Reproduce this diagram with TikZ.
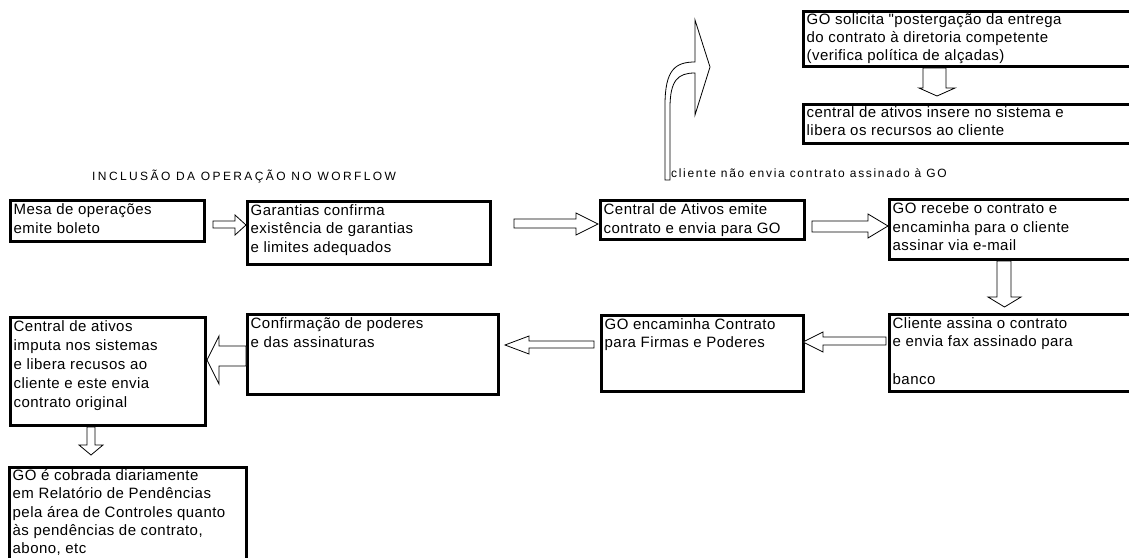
\documentclass[tikz,border=0pt]{standalone}
\usepackage{fontspec}
\setmainfont{Liberation Sans}
\newfontfamily\bodyf[LetterSpace=3]{Liberation Sans}
\newfontfamily\headf[LetterSpace=14]{Liberation Sans}
\newfontfamily\titlef[LetterSpace=20]{Liberation Sans}
\begin{document}
\begin{tikzpicture}[x=1pt,y=-1pt,
  boxline/.style={line width=3.4pt, line join=miter},
  barrow/.style={draw=black, line width=0.8pt, fill=white, line join=miter},
  txt/.style={anchor=north west, inner sep=0pt, align=left,
    font=\bodyf\fontsize{15}{18.7}\selectfont, execute at begin node=\rule{0pt}{14pt}},
  lbl/.style={anchor=base west, inner sep=0pt, font=\headf\fontsize{12}{14}\selectfont}]
\clip (0,0) rectangle (1129,557);
\fill[white] (0,0) rectangle (1129,557);

% boxes
\draw[boxline] (10.7,200.7) rectangle (204.3,241.3);
\draw[boxline] (247.7,201.7) rectangle (490.3,264.3);
\draw[boxline] (600.7,200.7) rectangle (804.3,239.3);
\draw[boxline] (889.7,199.7) rectangle (1140,259.3);
\draw[boxline] (889.7,314.7) rectangle (1140,391.3);
\draw[boxline] (601.7,315.7) rectangle (803.3,391.3);
\draw[boxline] (247.7,314.7) rectangle (498.3,394.3);
\draw[boxline] (10.7,317.7) rectangle (205.3,425.3);
\draw[boxline] (9.7,467.7) rectangle (246.3,570);
\draw[boxline] (803.7,11.7) rectangle (1140,66.3);
\draw[boxline] (803.7,104.7) rectangle (1140,143.3);

% texts
\node[txt] (mesa) at (13.5,203.5) {Mesa de operações\\emite boleto};
\node[txt] (gar) at (250.5,204) {Garantias confirma\\existência de garantias\\e limites adequados};
\node[txt] (cen) at (603.5,203.5) {Central de Ativos emite\\contrato e envia para GO};
\node[txt] (gorec) at (892.5,202.5) {GO recebe o contrato e\\encaminha para o cliente\\assinar via e-mail};
\node[txt] (cli) at (892.5,317) {Cliente assina o contrato\\e envia fax assinado para\\\mbox{}\\banco};
\node[txt] (goenc) at (604.5,318) {GO encaminha Contrato\\para Firmas e Poderes};
\node[txt] (conf) at (250.5,317.5) {Confirmação de poderes\\e das assinaturas};
\node[txt, font=\bodyf\fontsize{15}{19.2}\selectfont] (cat) at (13.5,320) {Central de ativos\\imputa nos sistemas\\e libera recusos ao\\cliente e este envia\\contrato original};
\node[txt, font=\bodyf\fontsize{15}{18.2}\selectfont] (gocob) at (12.5,469.5) {GO é cobrada diariamente\\em Relatório de Pendências\\pela área de Controles quanto\\às pendências de contrato,\\abono, etc};
\node[txt, font=\bodyf\fontsize{15}{18}\selectfont] (gosol) at (806.5,13.5) {GO solicita "postergação da entrega\\do contrato à diretoria competente\\(verifica política de alçadas)};
\node[txt, font=\bodyf\fontsize{15}{17.5}\selectfont] (cins) at (806.5,106.5) {central de ativos insere no sistema e\\libera os recursos ao cliente};

\node[lbl, font=\titlef\fontsize{12}{14}\selectfont] (head) at (92,180) {INCLUSÃO DA OPERAÇÃO NO WORFLOW};
\node[lbl] (nao) at (671,177) {cliente não envia contrato assinado à GO};

% block arrows
\draw[barrow] (213,221) -- (235,221) -- (235,215) -- (246,225) -- (235,235) -- (235,228) -- (213,228) -- cycle;
\draw[barrow] (514,219) -- (576,219) -- (576,213) -- (598,224) -- (576,235) -- (576,228) -- (514,228) -- cycle;
\draw[barrow] (812,221) -- (868,221) -- (868,214) -- (888,226) -- (868,238) -- (868,232) -- (812,232) -- cycle;
\draw[barrow] (997,261) -- (997,297) -- (988,297) -- (1004.5,307) -- (1021,297) -- (1011,297) -- (1011,261) -- cycle;
\draw[barrow] (886,337) -- (823,337) -- (823,332) -- (803,342) -- (823,352) -- (823,345) -- (886,345) -- cycle;
\draw[barrow] (594,341) -- (529,341) -- (529,336) -- (505,345) -- (529,354) -- (529,348) -- (594,348) -- cycle;
\draw[barrow] (246,346) -- (219,346) -- (219,336) -- (207,360) -- (219,384) -- (219,366) -- (246,366) -- cycle;
\draw[barrow] (87,427) -- (87,445) -- (79,445) -- (91,455) -- (103,445) -- (95,445) -- (95,427) -- cycle;
\draw[barrow] (923,68) -- (923,88) -- (919,88) -- (937,96) -- (955,88) -- (946,88) -- (946,68) -- cycle;
% curved arrow
\draw[barrow] (665,180) -- (665,105) .. controls (665,70) and (675,62) .. (695,62)
  -- (695,20) -- (710,67) -- (695,115) -- (695,73)
  .. controls (678,73) and (670,80) .. (670,108) -- (670,180) -- cycle;
\end{tikzpicture}
\end{document}
